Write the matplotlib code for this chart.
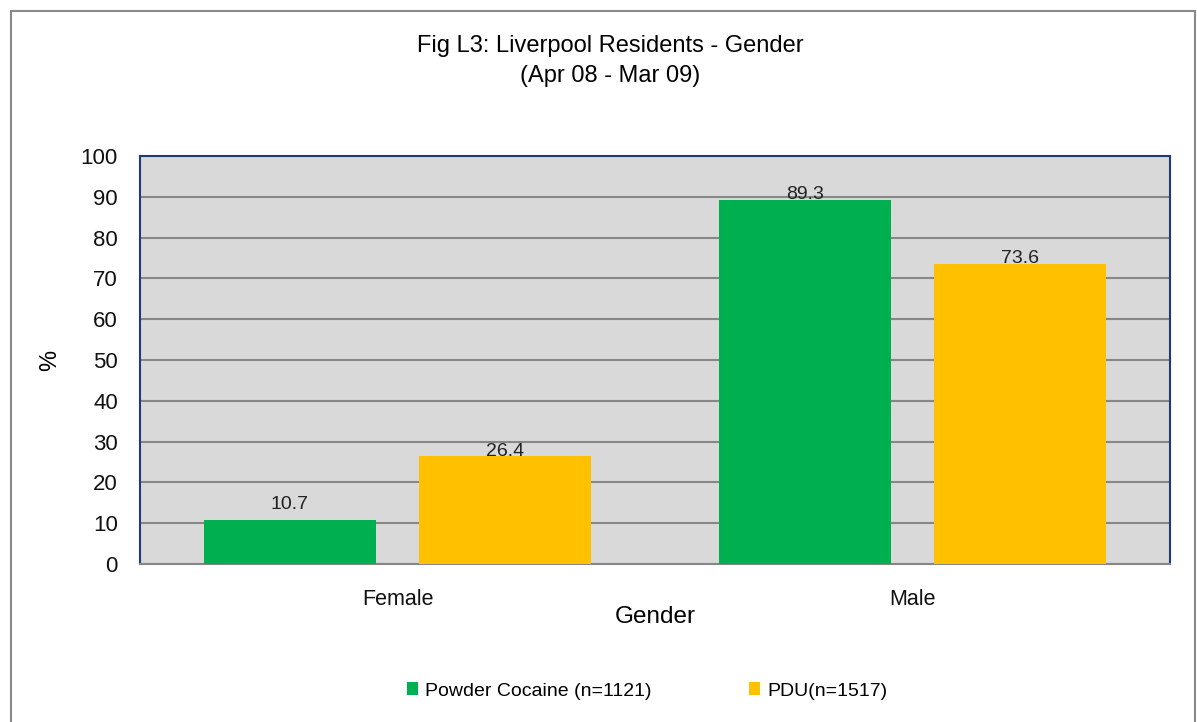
import matplotlib.pyplot as plt
from matplotlib.patches import Rectangle
import numpy as np

categories = ['Female', 'Male']
cocaine = [10.7, 89.3]
pdu = [26.4, 73.6]
series_names = ['Powder Cocaine (n=1121)', 'PDU(n=1517)']
colors = ['#00b050', '#ffc000']

plt.rcParams['font.family'] = ['Liberation Sans', 'DejaVu Sans']

fig = plt.figure(figsize=(11.97, 7.22), dpi=100)
ax = fig.add_axes([140/1197, 1 - 564/722, 1030/1197, 408/722])

# outer chart frame
fig.patches.append(Rectangle((11/1197, -0.05), (1195 - 11)/1197, 1 - 11/722 + 0.05,
                             transform=fig.transFigure, fill=False,
                             edgecolor='#898989', linewidth=1.5))

x = np.arange(len(categories))
w = 0.334
off = 0.209
b1 = ax.bar(x - off, cocaine, w, color=colors[0], zorder=3, label=series_names[0])
b2 = ax.bar(x + off, pdu, w, color=colors[1], zorder=3, label=series_names[1])

# excel-ish label placement: small bar label sits a bit above, others overlap the top
for bars, vals in [(b1, cocaine), (b2, pdu)]:
    for rect, v in zip(bars, vals):
        dy = 5 if v < 15 else -2.5
        ax.annotate(f'{v:.1f}', (rect.get_x() + rect.get_width()/2, v),
                    xytext=(0, dy), textcoords='offset points',
                    ha='center', va='bottom', fontsize=14, color='#222222', zorder=4)

ax.set_xlim(-0.5, 1.5)
ax.set_ylim(0, 100)
ax.set_yticks(range(0, 101, 10))
ax.set_xticks(x)
ax.set_xticklabels(categories)
ax.set_facecolor('#d9d9d9')
ax.yaxis.grid(True, color='#878787', linewidth=1.5, zorder=1)
ax.set_axisbelow(True)
ax.tick_params(axis='both', length=0, labelsize=16, colors='#111111')
ax.tick_params(axis='x', pad=18, labelsize=15.5)
ax.tick_params(axis='y', pad=16)
for s in ['left', 'top', 'right']:
    ax.spines[s].set_color('#1f3a78')
    ax.spines[s].set_linewidth(1.5)
ax.spines['bottom'].set_color('#878787')
ax.spines['bottom'].set_linewidth(1.5)

ax.set_xlabel('Gender', fontsize=17.5, labelpad=-3)
ax.set_ylabel('%', fontsize=17, labelpad=14)

fig.text(610/1197, 1 - 46/722, 'Fig L3: Liverpool Residents - Gender', ha='center',
         va='center', fontsize=17)
fig.text(610/1197, 1 - 76/722, '(Apr 08 - Mar 09)', ha='center', va='center', fontsize=17)

fig.legend(handles=[b1, b2], loc='center', bbox_to_anchor=(647/1197, 1 - 691/722),
           ncol=2, frameon=False, fontsize=14, handlelength=0.6, handleheight=0.6,
           handletextpad=0.35, columnspacing=5.0)

fig.savefig('out.png', dpi=100)
